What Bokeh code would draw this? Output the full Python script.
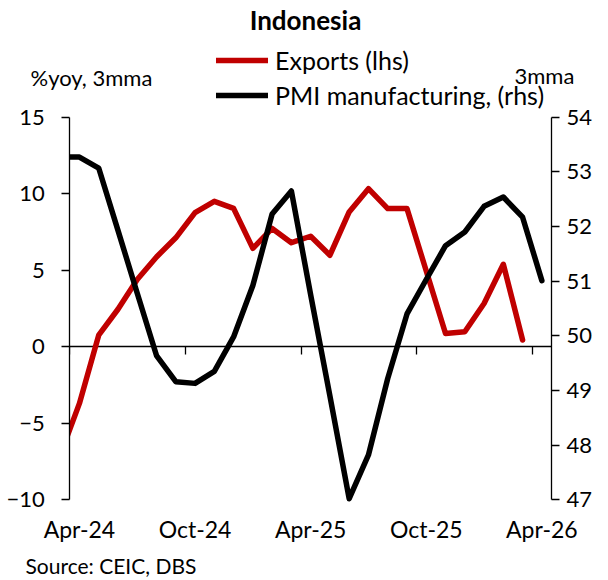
from bokeh.plotting import figure
from bokeh.models import (LinearAxis, Range1d, FixedTicker, Label, Legend, LegendItem,
                          BoxAnnotation)
from bokeh.embed import file_html
from bokeh.resources import INLINE

# ---- data (monthly, 3mma) ----
months = ["Mar-24", "Apr-24", "May-24", "Jun-24", "Jul-24", "Aug-24", "Sep-24", "Oct-24",
          "Nov-24", "Dec-24", "Jan-25", "Feb-25", "Mar-25", "Apr-25", "May-25", "Jun-25",
          "Jul-25", "Aug-25", "Sep-25", "Oct-25", "Nov-25", "Dec-25", "Jan-26", "Feb-26",
          "Mar-26", "Apr-26"]
exports = [-7.1, -3.7, 0.76, 2.45, 4.4, 5.87, 7.12, 8.77, 9.5, 9.04, 6.43, 7.73, 6.8,
           7.22, 5.98, 8.81, 10.33, 9.03, 9.03, 4.95, 0.87, 0.98, 2.83, 5.39, 0.44]
pmi = [53.27, 53.27, 53.07, 51.93, 50.78, 49.64, 49.16, 49.13, 49.35, 49.98, 50.92,
       52.23, 52.65, 50.75, 48.9, 47.02, 47.82, 49.22, 50.4, 51.03, 51.65, 51.9, 52.37,
       52.54, 52.17, 51.01]
x_tick_labels = ["Apr-24", "Oct-24", "Apr-25", "Oct-25", "Apr-26"]
left_ticks = [-10, -5, 0, 5, 10, 15]
right_ticks = [47, 48, 49, 50, 51, 52, 53, 54]

# month index: Apr-24 = 0
base = months.index("Apr-24")
x_exp = [i - base for i in range(len(exports))]
x_pmi = [i - base for i in range(len(pmi))]
label_pos = [months.index(m) - base for m in x_tick_labels]
boundary_pos = [v - 0.5 for v in label_pos]

# ---- layout (canvas pixels) ----
FONT = "Lato"
W, H = 606, 578
PL, PR, PT, PB = 69.3, 551.0, 116.7, 499.3     # plot box
XA, XB = -0.5, 24.5                              # x extent of plot box
YA, YB = -10.0, 15.0                             # left y extent
RA, RB = 47.0, 54.0                              # right y extent

xs = (XB - XA) / (PR - PL)
ys = (YB - YA) / (PB - PT)
rs = (RB - RA) / (PB - PT)
x_range = Range1d(XA - PL * xs, XB + (W - PR) * xs)
y_range = Range1d(YA - (H - PB) * ys, YB + PT * ys)
r_range = Range1d(RA - (H - PB) * rs, RB + PT * rs)

def px2x(px):
    return XA + (px - PL) * xs

def py2y(py):
    return YB - (py - PT) * ys

p = figure(width=W, height=H, output_backend="svg", toolbar_location=None,
           x_range=x_range, y_range=y_range, x_axis_location=None, y_axis_location=None,
           min_border=0)
p.extra_y_ranges = {"pmi": r_range}
p.outline_line_color = None
p.xgrid.visible = False
p.ygrid.visible = False
p.background_fill_color = "white"
p.border_fill_color = "white"

r_exp = p.line(x_exp, exports, line_color="#C00000", line_width=5.5,
               line_join="round", line_cap="round")
r_pmi = p.line(x_pmi, pmi, y_range_name="pmi", line_color="black", line_width=5.5,
               line_join="round", line_cap="round")

# mask the part of the lines left of the plot box (acts as clipping)
mask = BoxAnnotation(right=XA, bottom=YA - 1, top=YB + 1, fill_color="white",
                     fill_alpha=1, line_color=None, level="glyph")
p.renderers.append(mask)

def style_axis(ax, size="22px"):
    ax.major_label_text_font = FONT
    ax.major_label_text_font_size = size
    ax.major_label_text_color = "black"
    ax.axis_line_color = "black"
    ax.axis_line_width = 1.3
    ax.major_tick_line_color = "black"
    ax.major_tick_line_width = 1.3
    ax.minor_tick_line_color = None
    ax.major_tick_in = 0

# left axis
ly = LinearAxis(fixed_location=XA, bounds=(YA, YB), ticker=FixedTicker(ticks=left_ticks))
style_axis(ly)
ly.major_tick_out = 8
ly.major_label_standoff = 17
p.add_layout(ly, "left")

# right axis
ry = LinearAxis(fixed_location=XB, y_range_name="pmi", bounds=(RA, RB),
                ticker=FixedTicker(ticks=right_ticks))
style_axis(ry)
ry.major_tick_out = 8
ry.major_label_standoff = 7
p.add_layout(ry, "right")

# zero line axis with boundary ticks
zx = LinearAxis(fixed_location=0, bounds=(XA, XB), ticker=FixedTicker(ticks=boundary_pos),
                major_label_overrides={t: "" for t in boundary_pos})
style_axis(zx)
zx.major_tick_out = 8
zx.level = "underlay"
p.add_layout(zx, "below")

# labelled x axis at the bottom of the plot box
bx = LinearAxis(fixed_location=YA, ticker=FixedTicker(ticks=label_pos),
                major_label_overrides={pos: lab for pos, lab in zip(label_pos, x_tick_labels)})
style_axis(bx, "23px")
bx.axis_line_color = None
bx.major_tick_line_color = None
bx.major_tick_out = 0
bx.major_label_standoff = 15
p.add_layout(bx, "below")

# legend in the header
LG_X, LG_TOP, ROW_H, GAP = 216, 45, 30, 5
legend = Legend(items=[LegendItem(label="Exports (lhs)", renderers=[r_exp]),
                       LegendItem(label="PMI manufacturing, (rhs)", renderers=[r_pmi])],
                location=(LG_X, H - (LG_TOP + 2 * ROW_H + GAP)),
                label_text_font=FONT, label_text_font_size="25px",
                label_text_color="black",
                glyph_width=52, glyph_height=ROW_H, label_height=ROW_H, label_standoff=7,
                spacing=GAP, padding=0, margin=0,
                border_line_color=None, background_fill_alpha=0)
p.add_layout(legend, "center")

def add_text(text, px, py, size, align="left", bold=False):
    p.add_layout(Label(x=px2x(px), y=py2y(py), text=text, text_font=FONT,
                       text_font_size=size, text_align=align, text_baseline="middle",
                       text_color="black", text_font_style="bold" if bold else "normal"))

add_text("Indonesia", 305, 19, "26px", align="center", bold=True)
add_text("%yoy, 3mma", 30, 77, "22px")
add_text("3mma", 514, 75, "22px")
add_text("Source: CEIC, DBS", 25, 565, "21px")

open("out.html", "w").write(file_html(p, INLINE))
